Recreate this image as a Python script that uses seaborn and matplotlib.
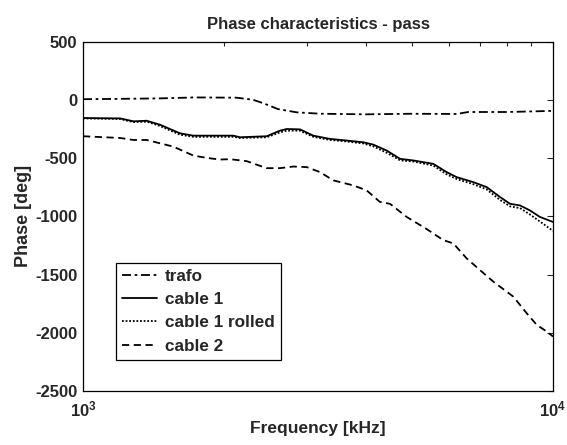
import pandas as pd
import matplotlib
matplotlib.use('Agg')
import matplotlib.pyplot as plt
import seaborn as sns
from matplotlib.ticker import LogLocator, FixedFormatter, FixedLocator, NullFormatter

# values (frequency in kHz, phase in deg)
trafo_f = [1000, 1200, 1460, 1730, 2120, 2300, 2420, 2600, 2850, 3200, 4000, 5000, 6240, 6600, 8000, 9000, 10000]
trafo_ph = [5, 8, 12, 20, 18, 0, -30, -80, -108, -120, -125, -120, -122, -105, -105, -100, -95]

cable1_f = [1000, 1200, 1280, 1366, 1458, 1608, 1717, 2089, 2158, 2459, 2625, 2713, 2895, 3090,
            3354, 3639, 3948, 4147, 4428, 4727, 5045, 5564, 5939, 6237, 6768, 7228, 7716,
            8101, 8508, 8933, 9382, 10000]
cable1_ph = [-157, -160, -185, -180, -214, -288, -308, -308, -322, -313, -265, -251, -254, -308,
             -336, -350, -365, -385, -436, -507, -521, -550, -621, -664, -707, -750, -835,
             -893, -907, -950, -1006, -1049]

rolled_f = [1000, 1200, 1280, 1366, 1458, 1608, 1717, 2089, 2158, 2459, 2625, 2713, 2895, 3090,
            3354, 3639, 3948, 4147, 4428, 4727, 5045, 5564, 5939, 6237, 6768, 7228, 7716,
            8101, 8508, 8933, 9382, 10000]
rolled_ph = [-160, -165, -192, -188, -225, -300, -318, -318, -328, -322, -280, -265, -265, -318,
             -345, -358, -375, -400, -455, -520, -530, -565, -640, -680, -725, -770, -860,
             -915, -930, -985, -1045, -1126]

cable2_f = [1000, 1200, 1280, 1366, 1556, 1717, 1833, 1957, 2055, 2230, 2459, 2625, 2803, 2992,
            3194, 3409, 3759, 4014, 4283, 4500, 4884, 5386, 5843, 6137, 6552, 6993, 7464,
            7971, 8235, 8790, 9232, 9694, 10000]
cable2_ph = [-313, -328, -345, -345, -402, -479, -499, -513, -510, -527, -587, -587, -573, -578,
             -621, -692, -735, -778, -877, -893, -1006, -1110, -1205, -1233, -1362, -1462, -1561,
             -1647, -1690, -1832, -1932, -1989, -2032]

series = [
    ('trafo', trafo_f, trafo_ph, (0, (5, 2, 1.5, 2))),
    ('cable 1', cable1_f, cable1_ph, '-'),
    ('cable 1 rolled', rolled_f, rolled_ph, (0, (1, 1))),
    ('cable 2', cable2_f, cable2_ph, (0, (4, 2.5))),
]


def main():
    sns.set_style('white')
    plt.rcParams['font.family'] = ['Liberation Sans', 'DejaVu Sans']
    plt.rcParams['font.weight'] = 'bold'
    plt.rcParams['axes.unicode_minus'] = False
    plt.rcParams['mathtext.fontset'] = 'custom'
    plt.rcParams['mathtext.rm'] = 'Liberation Sans:bold'
    plt.rcParams['mathtext.it'] = 'Liberation Sans:bold'
    plt.rcParams['mathtext.bf'] = 'Liberation Sans:bold'

    fig = plt.figure(figsize=(5.67, 4.45), dpi=100)
    ax = fig.add_axes([0.1464, 0.1213, 0.8289, 0.7854])

    for name, f, ph, ls in series:
        df = pd.DataFrame({'f': f, 'ph': ph})
        sns.lineplot(data=df, x='f', y='ph', ax=ax, color='black', linestyle=ls,
                     linewidth=1.3, label=name)

    ax.set_xscale('log')
    ax.set_xlim(1000, 10000)
    ax.set_ylim(-2500, 500)
    ax.set_yticks([500, 0, -500, -1000, -1500, -2000, -2500])
    ax.xaxis.set_major_locator(FixedLocator([1000, 10000]))
    ax.xaxis.set_major_formatter(FixedFormatter([r'$10^{3}$', r'$10^{4}$']))
    ax.xaxis.set_minor_locator(LogLocator(base=10, subs=range(2, 10)))
    ax.xaxis.set_minor_formatter(NullFormatter())

    ax.tick_params(which='both', direction='in', top=True, right=True, labelsize=12)
    ax.tick_params(which='major', length=4, width=0.8)
    ax.tick_params(which='minor', length=3, width=0.8)
    ax.tick_params(axis='x', pad=6)
    ax.tick_params(axis='y', pad=4)
    for s in ax.spines.values():
        s.set_color('black')
        s.set_linewidth(0.9)

    ax.set_title('Phase characteristics - pass', fontsize=12, fontweight='bold', pad=9)
    ax.set_xlabel('Frequency [kHz]', fontsize=12.5, fontweight='bold', labelpad=1)
    ax.set_ylabel('Phase [deg]', fontsize=13, fontweight='bold', labelpad=2)

    leg = ax.legend(loc='lower left', bbox_to_anchor=(0.062, 0.08), fontsize=12.3,
                    handlelength=2.1, handletextpad=0.45, labelspacing=0.48,
                    borderpad=0.35, borderaxespad=0.2, fancybox=False, framealpha=1)
    leg.get_frame().set_edgecolor('black')
    leg.get_frame().set_linewidth(0.9)

    fig.savefig('out.png', dpi=100)


if __name__ == '__main__':
    main()
